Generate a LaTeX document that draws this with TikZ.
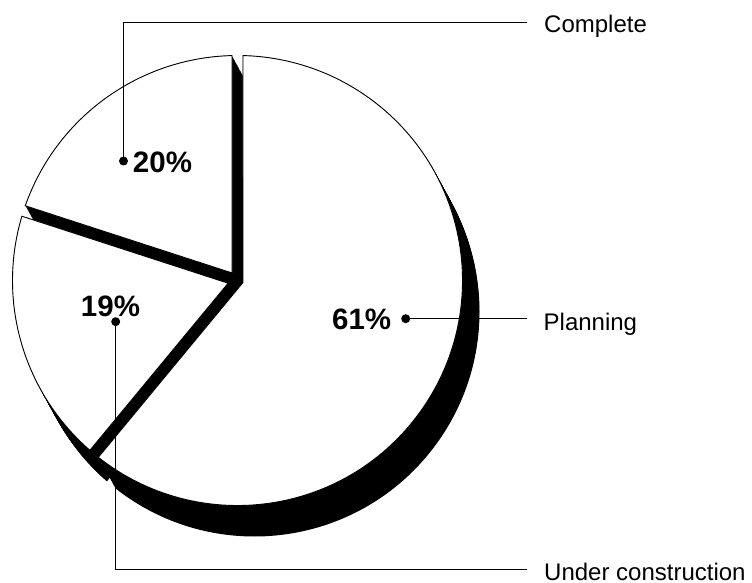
\documentclass[tikz,border=0pt]{standalone}
\usepackage{fontspec}
\setmainfont{Liberation Sans}
\newcommand\myslice[3]{%
  \pgfmathsetmacro\mybis{(#1+#2)/2}%
  \pgfmathsetmacro\mydd{5.5/sin((#2-#1)/2)}%
  \pgfmathsetmacro\mya{#1+1.4}%
  \pgfmathsetmacro\myb{#2-1.4}%
  \path[#3] (\mybis:\mydd) -- (\mya:225) arc[start angle=\mya, end angle=\myb, radius=225] -- cycle;}
\begin{document}
\begin{tikzpicture}[x=1pt,y=1pt,
  slice/.style={fill=white,draw=black,line width=0.9pt,line join=miter},
  shadowfill/.style={fill=black},
  lead/.style={draw=black,line width=1pt},
  dot/.style={circle,fill=black,inner sep=0pt,minimum size=9pt},
  pct/.style={font=\fontsize{29.5}{31}\selectfont\bfseries,inner sep=0pt,anchor=base},
  lbl/.style={font=\fontsize{24}{26}\selectfont,inner sep=0pt,anchor=base west}]
\useasboundingbox[fill=white] (0,0) rectangle (752,582);
\begin{scope}[shift={(237.5,301.5)}]
  % extruded shadow
  \foreach \i in {0,...,40}{
    \begin{scope}[shift={(\i*0.425,-\i*0.775)}]
      \myslice{90}{162}{shadowfill}
      \myslice{162}{230.4}{shadowfill}
      \myslice{230.4}{450}{shadowfill}
    \end{scope}
  }
  % slices
  \myslice{90}{162}{slice}
  \myslice{162}{230.4}{slice}
  \myslice{230.4}{450}{slice}
\end{scope}
% percentages
\node[pct] (p20) at (162.5,409) {20\%};
\node[pct] (p19) at (110.5,266) {19\%};
\node[pct] (p61) at (361.7,253) {61\%};
% dots
\node[dot] (d20) at (123.5,421) {};
\node[dot] (d19) at (115.7,260.3) {};
\node[dot] (d61) at (405.7,263.3) {};
% line ends
\coordinate (e20) at (527,559.5);
\coordinate (e19) at (527,12.5);
\coordinate (e61) at (527,263.3);
% labels
\node[lbl] (lc) at (544,549.5) {Complete};
\node[lbl] (lp) at (543.5,252) {Planning};
\node[lbl,text depth=0pt] (lu) at (544,2) {Under construction};
% leaders
\draw[lead] (d20.center) |- (e20);
\draw[lead] (d19.center) |- (e19);
\draw[lead] (d61.center) -- (e61);
\end{tikzpicture}
\end{document}
